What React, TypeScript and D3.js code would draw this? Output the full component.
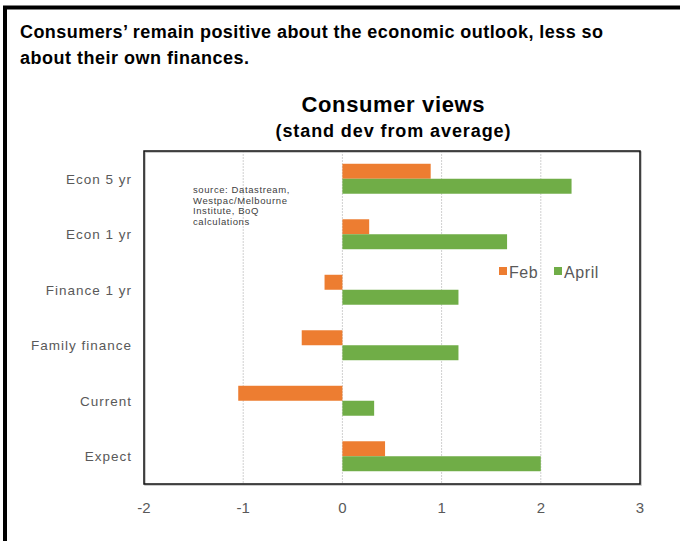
import React from "react";
import * as d3 from "d3";

const categories = ["Econ 5 yr", "Econ 1 yr", "Finance 1 yr", "Family finance", "Current", "Expect"];
const febValues = [0.89, 0.27, -0.18, -0.41, -1.05, 0.43];
const aprilValues = [2.31, 1.66, 1.17, 1.17, 0.32, 2.0];
const seriesNames = ["Feb", "April"];
const xTicks = [-2, -1, 0, 1, 2, 3];
const sourceLines = ["source:  Datastream,", "Westpac/Melbourne", "Institute,  BoQ", "calculations"];

const W = 680;
const H = 541;
const plot = { left: 144, right: 640, top: 151, bottom: 484 };
const ORANGE = "#ED7D31";
const GREEN = "#70AD47";

export default function App() {
  const x = d3.scaleLinear().domain([-2, 3]).range([plot.left, plot.right]);
  const y = d3.scaleBand<string>().domain(categories).range([plot.top, plot.bottom]).paddingInner(0.46).paddingOuter(0.23);
  const sub = d3.scaleBand<string>().domain(seriesNames).range([0, y.bandwidth()]);
  const series = [febValues, aprilValues];
  const colors = [ORANGE, GREEN];
  const narrow = "'Liberation Sans Narrow', 'Liberation Sans', Arial, sans-serif";
  return (
    <div style={{ position: "fixed", left: 0, top: 0, width: W, height: H, background: "#fff" }}>
      <svg width={W} height={H} style={{ display: "block" }} fontFamily="'Liberation Sans', Arial, sans-serif">
        <rect x={0} y={0} width={W} height={H} fill="#fff" />
        {/* outer frame */}
        <path d={`M5,${H + 5} V7.5 H${W + 5}`} fill="none" stroke="#000" strokeWidth={4} />
        <text x={20} y={38} fontSize={18} fontWeight="bold" fill="#000" fontFamily={narrow} textLength={583} lengthAdjust="spacing">
          Consumers’ remain positive about the economic outlook, less so
        </text>
        <text x={20} y={64} fontSize={18} fontWeight="bold" fill="#000" fontFamily={narrow} textLength={229} lengthAdjust="spacing">
          about their own finances.
        </text>
        <text x={393} y={112} textAnchor="middle" fontSize={22} fontWeight="bold" fill="#000" textLength={183} lengthAdjust="spacing">
          Consumer views
        </text>
        <text x={393} y={137} textAnchor="middle" fontSize={18} fontWeight="bold" fill="#000" textLength={235} lengthAdjust="spacing">
          (stand dev from average)
        </text>
        {/* gridlines */}
        {xTicks.slice(1, -1).map((t) => (
          <line key={t} x1={x(t)} x2={x(t)} y1={plot.top} y2={plot.bottom} stroke="#d0d0d0" strokeWidth={1} strokeDasharray="2,1" />
        ))}
        {/* bars */}
        {series.map((vals, si) =>
          vals.map((v, i) => (
            <rect
              key={`${si}-${i}`}
              x={Math.min(x(0), x(v))}
              y={(y(categories[i]) as number) + (sub(seriesNames[si]) as number)}
              width={Math.abs(x(v) - x(0))}
              height={sub.bandwidth()}
              fill={colors[si]}
            />
          ))
        )}
        {/* plot frame */}
        <rect x={plot.left + 1} y={plot.top + 1} width={plot.right - plot.left} height={plot.bottom - plot.top} fill="none" stroke="#bbb" strokeWidth={1.5} />
        <rect x={plot.left} y={plot.top} width={plot.right - plot.left} height={plot.bottom - plot.top} fill="none" stroke="#111" strokeWidth={1.5} />
        {/* category labels */}
        {categories.map((c) => (
          <text key={c} x={132} y={(y(c) as number) + y.bandwidth() / 2 + 5} textAnchor="end" fontSize={13.5} fill="#595959" letterSpacing={1}>
            {c}
          </text>
        ))}
        {/* x tick labels */}
        {xTicks.map((t) => (
          <text key={t} x={x(t)} y={513} textAnchor="middle" fontSize={15} fill="#595959">
            {t}
          </text>
        ))}
        {/* source note */}
        {sourceLines.map((l, i) => (
          <text key={i} x={193} y={193 + i * 10.7} fontSize={9.5} fill="#404040" letterSpacing={0.6}>
            {l}
          </text>
        ))}
        {/* legend */}
        {seriesNames.map((n, i) => {
          const lx = [499, 554][i];
          return (
            <g key={n}>
              <rect x={lx} y={267} width={8} height={8} fill={colors[i]} />
              <text x={lx + 10} y={278} fontSize={16} fill="#595959" letterSpacing={0.6}>
                {n}
              </text>
            </g>
          );
        })}
      </svg>
    </div>
  );
}
